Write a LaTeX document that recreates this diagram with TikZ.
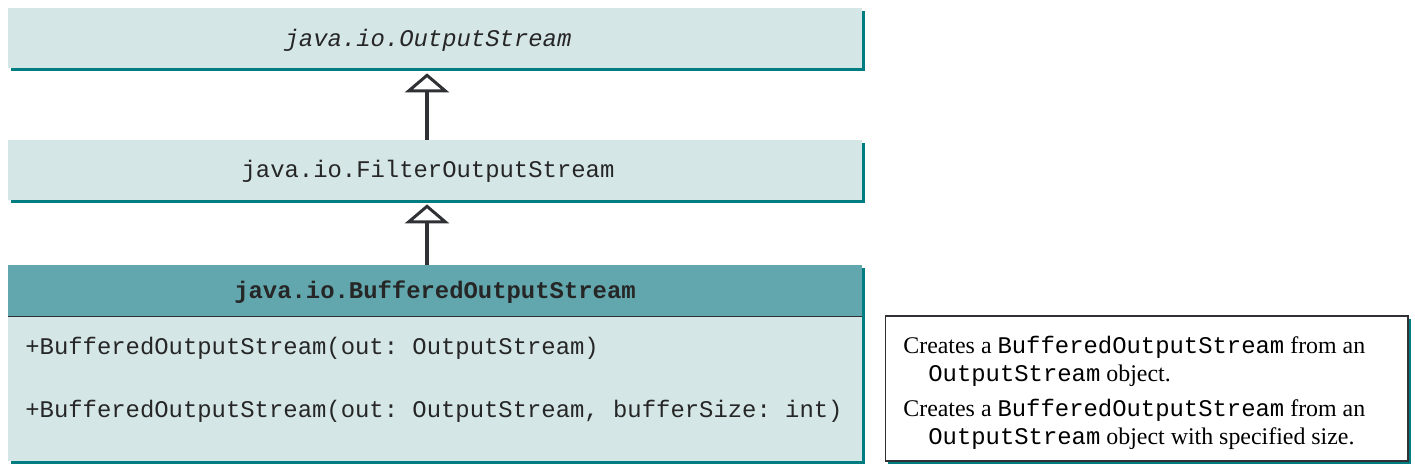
\documentclass[tikz,border=0pt]{standalone}
\usepackage{fontspec}
\setmainfont{Liberation Serif}
\setmonofont{Liberation Mono}
\usepackage{xcolor}
\usetikzlibrary{
    arrows.meta,
    positioning,
    shadows
}
\definecolor{boxfill}{HTML}{D5E6E6}
\definecolor{headfill}{HTML}{61A7AD}
\definecolor{shadowteal}{HTML}{007D80}
\definecolor{dark}{HTML}{2F3135}
\tikzset{
    % Class box style
    classbox/.style={
        rectangle,
        minimum width=17.08cm,
        minimum height=#1,
        inner sep=0pt,
        fill=boxfill,
        drop shadow={shadow xshift=0.06cm, shadow yshift=-0.06cm, opacity=1, fill=shadowteal}
    },
    % Header of the class box
    headbox/.style={
        classbox=1.02cm,
        fill=headfill
    },
    % Note box style
    notebox/.style={
        rectangle,
        minimum width=10.46cm,
        minimum height=2.9cm,
        inner sep=0pt,
        draw=dark,
        line width=0.6pt,
        fill=white,
        drop shadow={shadow xshift=0.06cm, shadow yshift=-0.06cm, opacity=1, fill=shadowteal}
    },
    % Code text
    code/.style={
        font=\fontsize{13.6}{16}\selectfont\ttfamily,
        text=black!85,
        inner sep=0pt
    },
    % Note text
    note text/.style={
        font=\fontsize{13.6}{15.9}\selectfont,
        align=left,
        inner sep=0pt
    },
    % Inheritance arrow
    extends/.style={
        -{Triangle[open, length=0.38cm, width=0.88cm, line width=1.7pt]},
        line width=1.9pt,
        color=dark
    }
}

\begin{document}
\begin{tikzpicture}[x=0.02cm, y=-0.02cm]

        \useasboundingbox (0, 0) rectangle (1415, 471);

        % Superclasses
        \node[classbox=1.2cm] (outstream) at (435, 38) {};
        \node[code] at (428, 40.5) {\itshape java.io.OutputStream};
        \node[classbox=1.2cm] (filter) at (435, 170) {};
        \node[code] at (428, 171) {java.io.FilterOutputStream};

        % Buffered class
        \node[headbox] (head) at (435, 290.5) {};
        \node[code] at (435, 292) {\bfseries java.io.BufferedOutputStream};
        \node[classbox=2.9cm] (body) at (435, 388.5) {};
        \draw[dark, line width=0.8pt] (head.south west) -- (head.south east);
        \node[code, anchor=west] (ctor1) at (25, 348) {+BufferedOutputStream(out: OutputStream)};
        \node[code, anchor=west] (ctor2) at (25, 411) {+BufferedOutputStream(out: OutputStream, bufferSize: int)};

        % Inheritance
        \draw[extends] ([xshift=-0.16cm]filter.north) -- ([xshift=-0.16cm, yshift=-0.1cm]outstream.south);
        \draw[extends] ([xshift=-0.16cm]head.north) -- ([xshift=-0.16cm, yshift=-0.08cm]filter.south);

        % Notes
        \node[notebox] (notes) at (1146.5, 388.5) {};
        \node[note text, anchor=west] (note1) at (903, 361) {Creates a \texttt{BufferedOutputStream} from an\\\hspace{0.5cm}\texttt{OutputStream} object.};
        \node[note text, anchor=west] (note2) at (903, 424) {Creates a \texttt{BufferedOutputStream} from an\\\hspace{0.5cm}\texttt{OutputStream} object with specified size.};

    \end{tikzpicture}
\end{document}
